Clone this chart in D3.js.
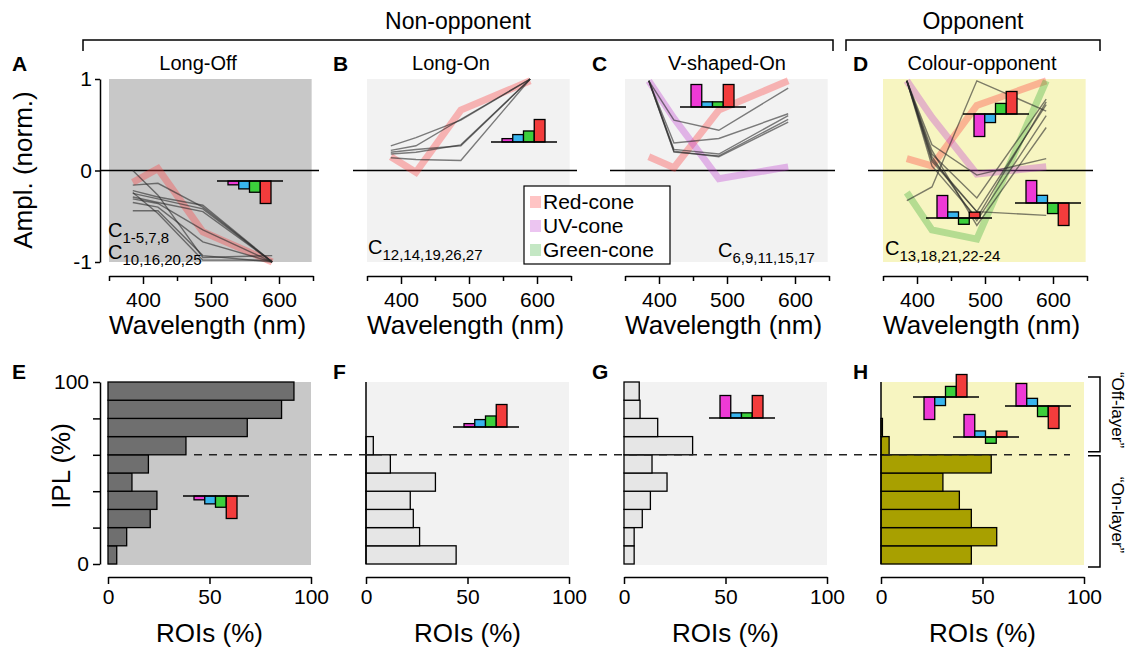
<!DOCTYPE html>
<html><head><meta charset="utf-8">
<script src="https://cdn.jsdelivr.net/npm/d3@7"></script>
<style>
body{margin:0;background:#fff}
svg text{font-family:"Liberation Sans",Arial,Helvetica,sans-serif;fill:#000}
</style>
</head><body>
<svg id="c" width="1127" height="648"></svg>
<script>
// ---------------- DATA ----------------
const wavelengths = [385, 422, 488, 590];
const xTicks = [350, 400, 450, 500, 550, 600, 650];
const xTickLabels = [400, 500, 600];
const ampTicks = [-1, 0, 1];

const longOffTraces = [
  [-0.16, -0.14, -0.40, -1.00],
  [-0.22, -0.29, -0.38, -1.00],
  [-0.25, -0.31, -0.42, -1.00],
  [-0.29, -0.35, -0.45, -1.00],
  [-0.31, -0.36, -0.65, -1.00],
  [-0.35, -0.40, -0.78, -1.00],
  [ 0.00, -0.27, -0.95, -0.93],
  [-0.44, -0.44, -0.93, -1.00],
  [-0.24, -0.47, -0.98, -0.98]
];
const longOffRed = [-0.13, 0.02, -0.67, -1.00];

const longOnTraces = [
  [0.27, 0.36, 0.55, 1.00],
  [0.22, 0.27, 0.56, 1.00],
  [0.20, 0.23, 0.27, 1.00],
  [0.14, 0.12, 0.11, 1.00],
  [0.18, 0.20, 0.28, 1.00]
];
const longOnRed = [0.15, -0.02, 0.66, 0.98];

const vShapedTraces = [
  [0.98, 0.55, 0.44, 0.90],
  [0.98, 0.30, 0.35, 0.62],
  [0.98, 0.23, 0.18, 0.60],
  [0.98, 0.20, 0.16, 0.56],
  [0.98, 0.21, 0.15, 0.53]
];
const vShapedRed = [0.15, 0.03, 0.66, 0.98];
const vShapedUV = [0.98, 0.57, -0.09, 0.04];

const opponentTraces = [
  [0.98, 0.18, -0.30, 0.78],
  [0.98, 0.12, -0.45, 0.72],
  [0.98, 0.15, -0.55, 0.60],
  [0.98, 0.22, -0.60, 0.47],
  [0.98, 0.28, -0.05, 0.13],
  [-0.33, -0.18, 0.98, 0.65],
  [0.98, 0.10, -0.45, -0.49],
  [0.98, 0.05, -0.52, 0.75]
];
const opponentRed = [0.13, 0.05, 0.71, 0.98];
const opponentUV = [0.98, 0.58, -0.04, 0.04];
const opponentGreen = [-0.24, -0.65, -0.75, 0.98];

// IPL histograms: bins (lower edge, %) bottom to top
const iplBins = [0, 10, 20, 30, 40, 50, 60, 70, 80, 90];
const iplTicks = [0, 20, 40, 60, 80, 100];
const roiTicks = [0, 50, 100];
const longOffIPL = [4.3, 9.2, 20.8, 24.1, 11.8, 19.9, 38.4, 68.6, 85.5, 91.6];
const longOnIPL = [44.4, 26.4, 23.3, 21.8, 34.2, 12.0, 3.6, 0, 0, 0];
const vShapedIPL = [5.0, 5.0, 9.0, 13.0, 21.2, 13.8, 33.8, 16.6, 7.9, 7.5];
const opponentIPL = [44.5, 57.0, 44.5, 38.6, 30.5, 54.3, 4.0, 0.7, 0, 0];
const layerBoundary = 60;

// cone-weight icons: UV, blue, green, red
const iconLongOff = [-0.17, -0.35, -0.50, -1.00];
const iconLongOn = [0.15, 0.33, 0.49, 1.00];
const iconVShaped = [1.00, 0.23, 0.23, 1.00];
const iconOpp1 = [-1.00, -0.38, 0.47, 1.00];
const iconOpp2 = [1.00, 0.27, -0.28, 0.26];
const iconOpp3 = [1.00, 0.34, -0.47, -1.00];

const coneNames = ['Red-cone', 'UV-cone', 'Green-cone'];

// ---------------- STYLE ----------------
const iconColors = ['#ee3ad6', '#38b4ee', '#3ccf3c', '#f23c3c'];
const coneColors = {red: '#ff3b3b', uv: '#c040d0', green: '#3aae3a'};
const bgDark = '#c8c8c8', bgLight = '#f2f2f2', bgYellow = '#f7f5c1';

const svg = d3.select('#c');

function drawIcon(x0, y0, vals) {
  const xs = d3.scaleBand().domain(d3.range(vals.length)).range([x0 + 11, x0 + 54]).padding(0);
  const hs = d3.scaleLinear().domain([0, 1]).range([0, 22.5]);
  const g = svg.append('g');
  vals.forEach((v, i) => {
    const h = hs(Math.abs(v));
    g.append('rect').attr('x', xs(i)).attr('width', xs.bandwidth())
      .attr('y', v >= 0 ? y0 - h : y0).attr('height', h)
      .attr('fill', iconColors[i]).attr('stroke', '#000').attr('stroke-width', 1.3);
  });
  g.append('line').attr('x1', x0).attr('x2', x0 + 66).attr('y1', y0).attr('y2', y0)
    .attr('stroke', '#000').attr('stroke-width', 1.4);
}

function styleAxis(ax, fs) {
  ax.select('.domain').attr('stroke', '#000').attr('stroke-width', 1.5);
  ax.selectAll('.tick line').attr('stroke', '#000').attr('stroke-width', 1.5);
  ax.selectAll('.tick text').attr('font-size', fs).attr('font-family', null).attr('fill', '#000');
}

function topPanel(o) {
  const x = d3.scaleLinear().domain([350, 650]).range([o.left, o.left + 204]);
  const y = d3.scaleLinear().domain([-1, 1]).range([262, 79]);
  const g = svg.append('g');
  g.append('rect').attr('x', x(350)).attr('y', y(1)).attr('width', x(648) - x(350))
    .attr('height', y(-1) - y(1)).attr('fill', o.bg);
  g.append('line').attr('x1', o.zeroFrom).attr('x2', x(650) + 6).attr('y1', y(0)).attr('y2', y(0))
    .attr('stroke', '#000').attr('stroke-width', 1.3);
  const line = d3.line().x((d, i) => x(wavelengths[i])).y(d => y(d));
  o.cones.forEach(c => g.append('path').attr('d', line(c.v)).attr('fill', 'none')
    .attr('stroke', c.c).attr('stroke-opacity', 0.35).attr('stroke-width', 7));
  o.traces.forEach(t => g.append('path').attr('d', line(t)).attr('fill', 'none')
    .attr('stroke', '#2a2a2a').attr('stroke-opacity', 0.6).attr('stroke-width', 1.4));
  const ax = g.append('g').attr('transform', 'translate(0,276)')
    .call(d3.axisBottom(x).tickValues(xTicks).tickSize(8).tickSizeOuter(0).tickPadding(8)
      .tickFormat(d => xTickLabels.includes(d) ? d : ''));
  styleAxis(ax, 21);
  ax.selectAll('.tick line').attr('y2', d => xTickLabels.includes(d) ? 8 : 5);
  g.append('text').attr('x', x(495)).attr('y', 334).attr('text-anchor', 'middle')
    .attr('font-size', 26).text('Wavelength (nm)');
  g.append('text').attr('x', o.titleX).attr('y', 70).attr('text-anchor', 'middle')
    .attr('font-size', 20).text(o.title);
  g.append('text').attr('x', o.letterX).attr('y', 71).attr('font-size', 21)
    .attr('font-weight', 'bold').text(o.letter);
  // cluster labels
  o.clusters.forEach(c => {
    const t = g.append('text').attr('x', o.left + c.dx).attr('y', c.y).attr('font-size', 20);
    t.append('tspan').text('C');
    t.append('tspan').attr('font-size', 15).attr('dy', 6).text(c.sub);
  });
  return {x, y, g};
}

// A
const A = topPanel({left: 109, bg: bgDark, zeroFrom: 100, title: 'Long-Off', titleX: 198, letter: 'A', letterX: 12,
  cones: [{v: longOffRed, c: coneColors.red}], traces: longOffTraces,
  clusters: [{dx: -1, y: 237, sub: '1-5,7,8'}, {dx: -1, y: 259, sub: '10,16,20,25'}]});
const ay = A.g.append('g').attr('transform', 'translate(100,0)')
  .call(d3.axisLeft(A.y).tickValues(ampTicks).tickSize(5).tickSizeOuter(0).tickPadding(3)
    .tickFormat(d => String(d)));
styleAxis(ay, 21);
// B
topPanel({left: 367, bg: bgLight, zeroFrom: 353, title: 'Long-On', titleX: 451, letter: 'B', letterX: 333,
  cones: [{v: longOnRed, c: coneColors.red}], traces: longOnTraces,
  clusters: [{dx: 1, y: 254, sub: '12,14,19,26,27'}]});
// C
topPanel({left: 625, bg: bgLight, zeroFrom: 610, title: 'V-shaped-On', titleX: 727, letter: 'C', letterX: 592,
  cones: [{v: vShapedRed, c: coneColors.red}, {v: vShapedUV, c: coneColors.uv}], traces: vShapedTraces,
  clusters: [{dx: 93, y: 257, sub: '6,9,11,15,17'}]});
// D
topPanel({left: 883, bg: bgYellow, zeroFrom: 868, title: 'Colour-opponent', titleX: 982, letter: 'D', letterX: 853,
  cones: [{v: opponentRed, c: coneColors.red}, {v: opponentUV, c: coneColors.uv}, {v: opponentGreen, c: coneColors.green}],
  traces: opponentTraces,
  clusters: [{dx: 2, y: 255, sub: '13,18,21,22-24'}]});

// y title top
svg.append('text').attr('transform', 'translate(32,170) rotate(-90)').attr('text-anchor', 'middle')
  .attr('font-size', 26).text('Ampl. (norm.)');

// legend
const leg = svg.append('g');
leg.append('rect').attr('x', 524).attr('y', 186).attr('width', 146).attr('height', 78)
  .attr('fill', '#fff').attr('stroke', '#000').attr('stroke-width', 1.2);
[coneColors.red, coneColors.uv, coneColors.green].forEach((c, i) => {
  leg.append('rect').attr('x', 530).attr('y', 196 + i * 24).attr('width', 11).attr('height', 12)
    .attr('fill', c).attr('fill-opacity', 0.3);
  leg.append('text').attr('x', 543).attr('y', 209 + i * 24).attr('font-size', 21).text(coneNames[i]);
});

// ---------------- bottom panels ----------------
const yI = d3.scaleLinear().domain([0, 100]).range([564, 382]);
function bottomPanel(o) {
  const x = d3.scaleLinear().domain([0, 100]).range([o.left, o.left + 203]);
  const g = svg.append('g');
  g.append('rect').attr('x', x(0)).attr('y', yI(100)).attr('width', x(100) - x(0))
    .attr('height', yI(0) - yI(100) + 1).attr('fill', o.bg);
  o.data.forEach((v, i) => {
    if (v <= 0) return;
    g.append('rect').attr('x', x(0)).attr('y', yI(iplBins[i] + 10)).attr('width', x(v) - x(0))
      .attr('height', yI(iplBins[i]) - yI(iplBins[i] + 10)).attr('fill', o.fill)
      .attr('stroke', '#000').attr('stroke-width', 1.3);
  });
  if (o.axisLine) g.append('line').attr('x1', x(0)).attr('x2', x(0)).attr('y1', yI(100)).attr('y2', yI(0))
    .attr('stroke', '#000').attr('stroke-width', 1.5);
  const ax = g.append('g').attr('transform', 'translate(0,577)')
    .call(d3.axisBottom(x).tickValues(roiTicks).tickSize(7).tickSizeOuter(0).tickPadding(5));
  styleAxis(ax, 21);
  g.append('text').attr('x', x(50)).attr('y', 642).attr('text-anchor', 'middle')
    .attr('font-size', 26).text('ROIs (%)');
  g.append('text').attr('x', o.letterX).attr('y', 379).attr('font-size', 21)
    .attr('font-weight', 'bold').text(o.letter);
  return {x, g};
}
const E = bottomPanel({left: 108, bg: bgDark, fill: '#6f6f6f', data: longOffIPL, letter: 'E', letterX: 12});
const ey = E.g.append('g').attr('transform', 'translate(100,0)')
  .call(d3.axisLeft(yI).tickValues(iplTicks).tickSize(7).tickSizeOuter(0).tickPadding(4)
    .tickFormat(d => (d === 0 || d === 100) ? d : ''));
styleAxis(ey, 21);
bottomPanel({left: 366, bg: bgLight, fill: '#e6e6e6', data: longOnIPL, letter: 'F', letterX: 333, axisLine: true});
bottomPanel({left: 624, bg: bgLight, fill: '#e6e6e6', data: vShapedIPL, letter: 'G', letterX: 592});
bottomPanel({left: 881, bg: bgYellow, fill: '#a8a000', data: opponentIPL, letter: 'H', letterX: 853, axisLine: true});

svg.append('text').attr('transform', 'translate(70,466) rotate(-90)').attr('text-anchor', 'middle')
  .attr('font-size', 26).text('IPL (%)');

// dashed layer boundary
svg.append('line').attr('x1', 194).attr('x2', 1070).attr('y1', yI(layerBoundary)).attr('y2', yI(layerBoundary))
  .attr('stroke', '#222').attr('stroke-width', 1.5).attr('stroke-dasharray', '8,7');

// icons
drawIcon(217, 181, iconLongOff);
drawIcon(183, 496, iconLongOff);
drawIcon(491, 142, iconLongOn);
drawIcon(453, 427, iconLongOn);
drawIcon(680, 107, iconVShaped);
drawIcon(709, 418, iconVShaped);
drawIcon(963, 114, iconOpp1);
drawIcon(926, 218, iconOpp2);
drawIcon(1015, 203, iconOpp3);
drawIcon(913, 397, iconOpp1);
drawIcon(1005, 406, iconOpp3);
drawIcon(953, 437, iconOpp2);

// layer brackets (right of H)
const br = svg.append('g').attr('stroke', '#000').attr('stroke-width', 1.5).attr('fill', 'none');
br.append('path').attr('d', `M1088,${yI(100) - 5}H1100V${yI(layerBoundary) - 3}H1088`);
br.append('path').attr('d', `M1088,${yI(layerBoundary) + 1}H1100V${yI(0) + 3}H1088`);
svg.append('text').attr('transform', 'translate(1112,410) rotate(90)').attr('text-anchor', 'middle')
  .attr('font-size', 17).text('\u201COff-layer\u201D');
svg.append('text').attr('transform', 'translate(1112,515) rotate(90)').attr('text-anchor', 'middle')
  .attr('font-size', 17).text('\u201COn-layer\u201D');

// top group brackets
const tb = svg.append('g').attr('stroke', '#000').attr('stroke-width', 1.5).attr('fill', 'none');
tb.append('path').attr('d', 'M83,51V40H833V51');
tb.append('path').attr('d', 'M846,51V40H1100V51');
svg.append('text').attr('x', 458).attr('y', 29).attr('text-anchor', 'middle').attr('font-size', 23).text('Non-opponent');
svg.append('text').attr('x', 973).attr('y', 29).attr('text-anchor', 'middle').attr('font-size', 23).text('Opponent');
</script>
</body></html>
